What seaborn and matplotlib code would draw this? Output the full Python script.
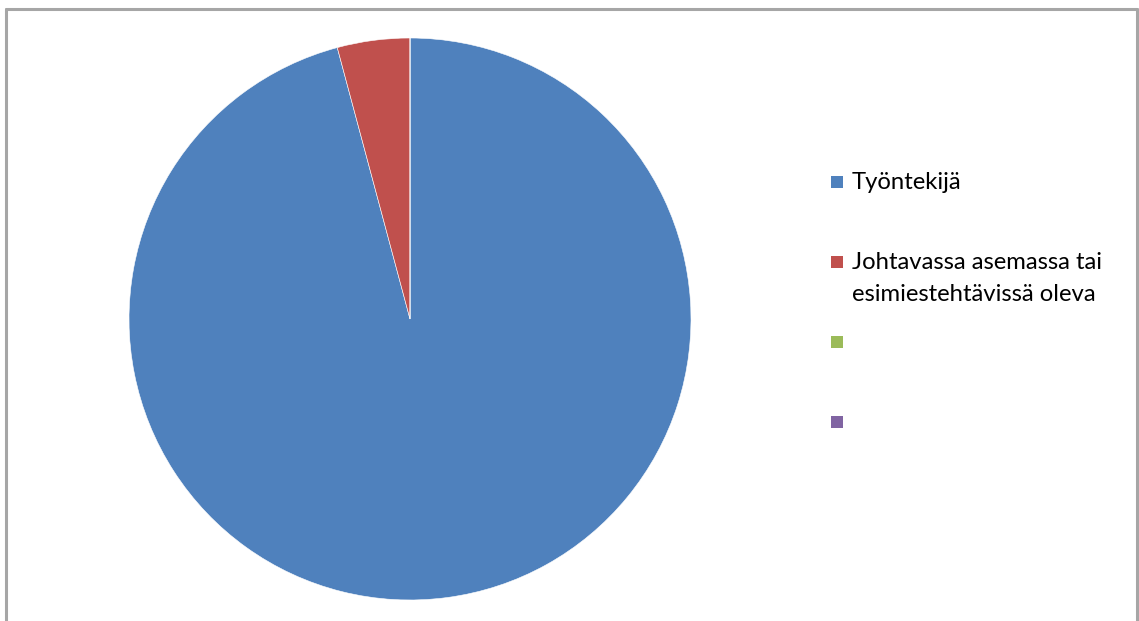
import matplotlib
matplotlib.use("Agg")
import matplotlib.pyplot as plt
from matplotlib.patches import Rectangle
from matplotlib.lines import Line2D
import seaborn as sns

# Survey answers: position at work
categories = ["Työntekijä", "Johtavassa asemassa tai\nesimiestehtävissä oleva", "", ""]
values = [23, 1, 0, 0]
colors = ["#4F81BD", "#C0504D", "#9BBB59", "#8064A2"]

sns.set_theme(style="white")
plt.rcParams["font.family"] = ["Lato", "DejaVu Sans"]

W, H = 1139, 621
fig = plt.figure(figsize=(W / 100, H / 100), dpi=100)
fig.patch.set_facecolor("white")

# Pie axes: centre (410, 319) px, radius 281 px
cx, cy, r = 410, 319, 281
ax = fig.add_axes([(cx - r) / W, (H - cy - r) / H, 2 * r / W, 2 * r / H])
ax.pie(values, colors=colors, startangle=90, counterclock=False, radius=1,
       wedgeprops=dict(edgecolor="white", linewidth=0.4))
ax.set_xlim(-1, 1)
ax.set_ylim(-1, 1)
ax.set_aspect("auto")
ax.axis("off")

# Legend: square key + label, one entry every 80 px; wrapped labels
# continue downward from the key's line
lx, ly0, step, sq, line_h = 831, 182, 80, 12, 32
for i, (lab, col) in enumerate(zip(categories, colors)):
    y = ly0 + i * step
    fig.add_artist(Rectangle((lx / W, (H - y - sq / 2) / H), sq / W, sq / H,
                             transform=fig.transFigure, facecolor=col,
                             edgecolor="none"))
    for k, line in enumerate(lab.split("\n") if lab else []):
        fig.text((lx + sq + 9) / W, (H - (y + 7 + k * line_h)) / H, line,
                 fontsize=17.2, color="black", ha="left", va="baseline",
                 transform=fig.transFigure)

# Chart-area frame (open at the bottom edge)
edge = "#A6A6A6"
x0, x1, yt = 5.5 / W, 1137 / W, (H - 8.5) / H
for xs, ys in [((x0, x0), (0, yt)), ((x0, x1), (yt, yt)), ((x1, x1), (yt, 0))]:
    fig.add_artist(Line2D(xs, ys, transform=fig.transFigure, color=edge, lw=2.2))

fig.savefig("out.png", dpi=100, facecolor="white")
